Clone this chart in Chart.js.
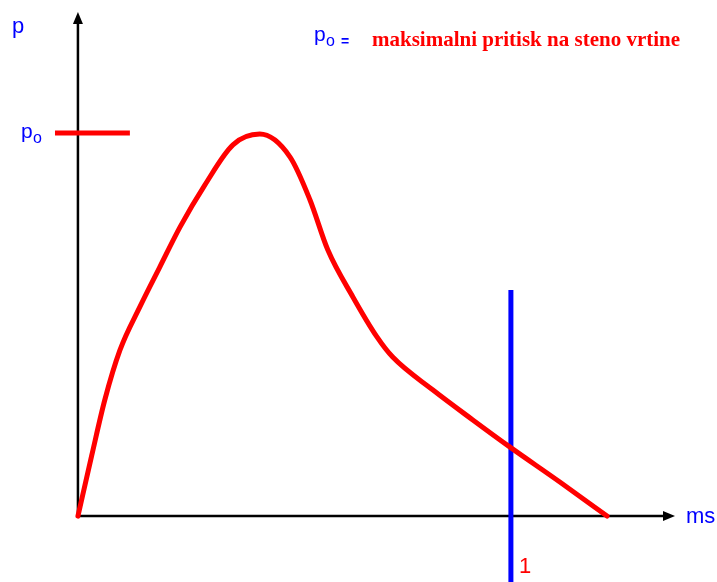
<!DOCTYPE html>
<html lang="sl">
<head>
  <meta charset="UTF-8">
  <title>Pritisk na steno vrtine</title>
  <style>
    body { margin: 0; background: #fff; }
    #wrap { width: 717px; height: 582px; }
  </style>
</head>
<body>
  <div id="wrap"><canvas id="chart" width="717" height="582"></canvas></div>

  <script src="https://cdn.jsdelivr.net/npm/chart.js"></script>
  <script>
    // time in ms, pressure relative to po
    const timeMs = [0, 0.032, 0.062, 0.097, 0.143, 0.189, 0.236, 0.293, 0.358, 0.420, 0.490, 0.536, 0.577, 0.635, 0.691, 0.727, 0.820, 0.912, 0.998, 1.113, 1.222];
    const pressure = [0, 0.159, 0.303, 0.433, 0.546, 0.650, 0.755, 0.864, 0.969, 0.997, 0.937, 0.825, 0.695, 0.572, 0.467, 0.415, 0.329, 0.251, 0.180, 0.089, 0];

    // po marker on the p axis
    const poMarkX = [-0.053, 0.120];
    const poLevel = 1;

    // vertical line at t = 1 ms
    const markTime = 1;
    const markTop = 0.59;

    // axis ranges
    const xRange = [-0.18, 1.476];
    const yRange = [-0.172, 1.347];
    const xArrowEnd = 1.379;
    const yArrowEnd = 1.316;

    // Axes with arrows and labels
    const decorPlugin = {
      id: 'decor',
      beforeDatasetsDraw(chart) {
        const ctx = chart.ctx;
        const xs = chart.scales.x, ys = chart.scales.y;
        const ox = xs.getPixelForValue(0), oy = ys.getPixelForValue(0);
        const xe = xs.getPixelForValue(xArrowEnd), ye = ys.getPixelForValue(yArrowEnd);
        ctx.save();
        ctx.strokeStyle = '#000';
        ctx.fillStyle = '#000';
        ctx.lineWidth = 2.5;
        ctx.beginPath();
        ctx.moveTo(ox, oy); ctx.lineTo(xe - 8, oy);
        ctx.moveTo(ox, oy); ctx.lineTo(ox, ye + 8);
        ctx.stroke();
        // arrow heads
        ctx.beginPath();
        ctx.moveTo(xe, oy); ctx.lineTo(xe - 12, oy - 5); ctx.lineTo(xe - 12, oy + 5); ctx.closePath();
        ctx.fill();
        ctx.beginPath();
        ctx.moveTo(ox, ye); ctx.lineTo(ox - 5, ye + 12); ctx.lineTo(ox + 5, ye + 12); ctx.closePath();
        ctx.fill();
        ctx.restore();
      },
      afterDraw(chart) {
        const ctx = chart.ctx;
        ctx.save();
        ctx.textBaseline = 'alphabetic';
        ctx.fillStyle = '#0000ff';
        ctx.font = '22px "Liberation Sans", Arial, sans-serif';
        ctx.fillText('p', 12, 33);
        ctx.fillText('ms', 686, 523);
        ctx.font = '21px "Liberation Sans", Arial, sans-serif';
        ctx.fillText('p', 21, 138);
        ctx.font = '16px "Liberation Sans", Arial, sans-serif';
        ctx.fillText('o', 33, 143);
        // title
        ctx.font = '21px "Liberation Sans", Arial, sans-serif';
        ctx.fillText('p', 314, 41);
        ctx.font = '16px "Liberation Sans", Arial, sans-serif';
        ctx.fillText('o', 326, 46);
        ctx.font = 'bold 14px "Liberation Sans", Arial, sans-serif';
        ctx.fillText('=', 341, 46);
        ctx.fillStyle = '#ff0000';
        ctx.font = 'bold 21px "Liberation Serif", "Times New Roman", serif';
        ctx.fillText('maksimalni pritisk na steno vrtine', 372, 46);
        ctx.font = '22px "Liberation Sans", Arial, sans-serif';
        ctx.fillText('1', 519, 573);
        ctx.restore();
      }
    };

    const curve = timeMs.map((t, i) => ({ x: t, y: pressure[i] }));

    new Chart(document.getElementById('chart'), {
      type: 'scatter',
      data: {
        datasets: [
          {
            label: 'p',
            data: curve,
            showLine: true,
            borderColor: '#ff0000',
            borderWidth: 5,
            pointRadius: 0,
            cubicInterpolationMode: 'monotone',
            borderCapStyle: 'round'
          },
          {
            label: 'po',
            data: poMarkX.map(x => ({ x: x, y: poLevel })),
            showLine: true,
            borderColor: '#ff0000',
            borderWidth: 5,
            pointRadius: 0
          },
          {
            label: '1 ms',
            data: [{ x: markTime, y: markTop }, { x: markTime, y: yRange[0] }],
            showLine: true,
            borderColor: '#0000ff',
            borderWidth: 5,
            pointRadius: 0
          }
        ]
      },
      options: {
        responsive: false,
        animation: false,
        layout: { padding: 0 },
        plugins: {
          legend: { display: false },
          tooltip: { enabled: false }
        },
        scales: {
          x: { type: 'linear', min: xRange[0], max: xRange[1], display: false },
          y: { type: 'linear', min: yRange[0], max: yRange[1], display: false }
        }
      },
      plugins: [decorPlugin]
    });
  </script>
</body>
</html>
